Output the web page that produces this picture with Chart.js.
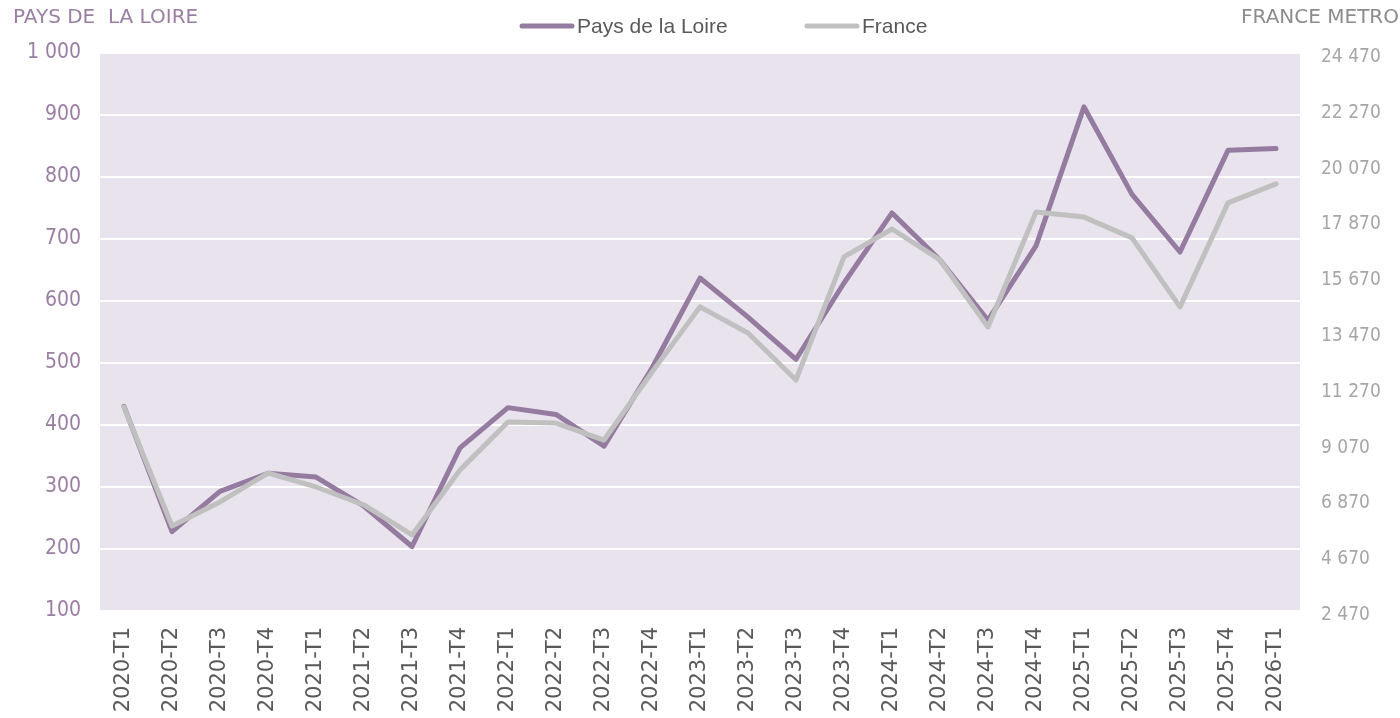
<!DOCTYPE html>
<html>
<head>
<meta charset="utf-8">
<script src="https://cdn.jsdelivr.net/npm/chart.js@4"></script>
<style>
  html, body { margin: 0; padding: 0; background: #fff; }
  #wrap { width: 1400px; height: 718px; }
</style>
</head>
<body>
<div id="wrap"><canvas id="myChart" width="1400" height="718"></canvas></div>
<script>
const trimestres = [
	'2020-T1', '2020-T2', '2020-T3', '2020-T4',
	'2021-T1', '2021-T2', '2021-T3', '2021-T4',
	'2022-T1', '2022-T2', '2022-T3', '2022-T4',
	'2023-T1', '2023-T2', '2023-T3', '2023-T4',
	'2024-T1', '2024-T2', '2024-T3', '2024-T4',
	'2025-T1', '2025-T2', '2025-T3', '2025-T4',
	'2026-T1',
];

// Pays de la Loire (axe gauche)
const paysLoire = [
	430, 228, 293, 322,
	316, 269, 204, 363,
	428, 417, 366, 492,
	637, 574, 506, 629,
	742, 666, 569, 689,
	913, 772, 679, 843,
	846,
];

// France metro (axe droit)
const franceMetro = [
	10510, 5820, 6770, 7910,
	7360, 6650, 5470, 8030,
	9920, 9880, 9210, 11890,
	14460, 13430, 11580, 16430,
	17530, 16310, 13670, 18200,
	18000, 17180, 14460, 18560,
	19310,
];

const gaucheMin = 100;
const gaucheMax = 1000;
const gaucheStep = 100;
const droiteMin = 2470;
const droiteMax = 24470;
const droiteStep = 2200;

const violet = '#967ba0';
const gris = '#c0c0c0';
const condensed = "'DejaVu Sans Condensed', 'DejaVu Sans', sans-serif";
const normal = "'DejaVu Sans', sans-serif";

const espaces = (v) => String(v).replace(/\B(?=(\d{3})+(?!\d))/g, ' ');

// fond de la zone de tracé + titres d'axes + légende
const decor = {
	id: 'decor',
	beforeDraw(chart) {
		const { ctx, chartArea } = chart;
		ctx.save();
		ctx.fillStyle = '#e8e3ec';
		ctx.fillRect(chartArea.left, chartArea.top, chartArea.right - chartArea.left, chartArea.bottom - chartArea.top);
		ctx.restore();
	},
	afterDraw(chart) {
		const { ctx } = chart;
		ctx.save();
		ctx.textBaseline = 'middle';
		ctx.font = '20px ' + normal;
		ctx.fillStyle = '#9b7ea3';
		ctx.textAlign = 'left';
		ctx.fillText('PAYS DE  LA LOIRE', 13, 18);
		ctx.fillStyle = '#8c8c8c';
		ctx.textAlign = 'right';
		ctx.fillText('FRANCE METRO', 1399, 18);

		const legende = [
			{ x: 520, ds: chart.data.datasets[0] },
			{ x: 805, ds: chart.data.datasets[1] },
		];
		ctx.font = "21px 'Liberation Sans', Arial, sans-serif";
		ctx.textAlign = 'left';
		for (let item of legende) {
			ctx.strokeStyle = item.ds.borderColor;
			ctx.lineWidth = 5;
			ctx.lineCap = 'round';
			ctx.beginPath();
			ctx.moveTo(item.x + 2, 26);
			ctx.lineTo(item.x + 52, 26);
			ctx.stroke();
			ctx.fillStyle = '#595959';
			ctx.fillText(item.ds.label, item.x + 57, 27);
		}
		ctx.restore();
	},
};

const ctx = document.getElementById('myChart').getContext('2d');

const dataChart = {
	labels: trimestres,
	datasets: [
		{
			label: 'Pays de la Loire',
			data: paysLoire,
			yAxisID: 'y',
			borderColor: violet,
			backgroundColor: violet,
			borderWidth: 5,
			pointRadius: 0,
			tension: 0,
			borderCapStyle: 'round',
			borderJoinStyle: 'round',
			order: 1,
		},
		{
			label: 'France',
			data: franceMetro,
			yAxisID: 'y2',
			borderColor: gris,
			backgroundColor: gris,
			borderWidth: 5,
			pointRadius: 0,
			tension: 0,
			borderCapStyle: 'round',
			borderJoinStyle: 'round',
			order: 0,
		},
	],
};

const config = {
	type: 'line',
	data: dataChart,
	plugins: [decor],
	options: {
		responsive: false,
		animation: false,
		devicePixelRatio: 1,
		layout: { padding: { top: 53, left: 0, right: 0, bottom: 0 } },
		plugins: {
			legend: { display: false },
			tooltip: { enabled: false },
		},
		scales: {
			x: {
				offset: true,
				grid: { display: false, drawTicks: false },
				border: { display: false },
				ticks: {
					minRotation: 90,
					maxRotation: 90,
					autoSkip: false,
					padding: 16,
					color: '#595959',
					font: { family: normal, size: 21 },
				},
				afterFit: (scale) => { scale.height = 107; },
			},
			y: {
				position: 'left',
				min: gaucheMin,
				max: gaucheMax,
				grid: { color: '#ffffff', lineWidth: 2, drawTicks: false },
				border: { display: false },
				ticks: {
					stepSize: gaucheStep,
					padding: 19,
					color: '#9b7ea3',
					font: { family: condensed, size: 21 },
					callback: (v) => espaces(v),
				},
				afterFit: (scale) => { scale.width = 100; },
			},
			y2: {
				position: 'right',
				min: droiteMin,
				max: droiteMax,
				grid: { display: false, drawTicks: false },
				border: { display: false },
				ticks: {
					stepSize: droiteStep,
					padding: 21,
					labelOffset: 4,
					color: '#a6a6a6',
					font: { family: condensed, size: 19 },
					callback: (v) => espaces(v),
				},
				afterFit: (scale) => { scale.width = 100; },
			},
		},
	},
};

const myChart = new Chart(ctx, config);
</script>
</body>
</html>
